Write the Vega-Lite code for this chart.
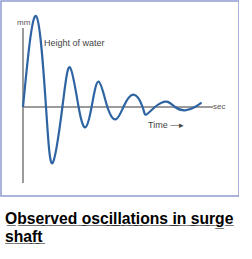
{
  "$schema": "https://vega.github.io/schema/vega-lite/v6.json",
  "width": 238,
  "height": 195,
  "padding": {"left": 1, "top": 1, "right": 0, "bottom": 0},
  "autosize": {"type": "pad"},
  "background": "white",
  "view": {"stroke": "#8e9ad0", "strokeWidth": 1.5},
  "title": {
    "text": ["O\u0332b\u0332s\u0332e\u0332r\u0332v\u0332e\u0332d\u0332 \u0332o\u0332s\u0332c\u0332i\u0332l\u0332l\u0332a\u0332t\u0332i\u0332o\u0332n\u0332s\u0332 \u0332i\u0332n\u0332 \u0332s\u0332u\u0332r\u0332g\u0332e\u0332", "s\u0332h\u0332a\u0332f\u0332t\u0332"],
    "orient": "bottom",
    "anchor": "start",
    "frame": "group",
    "font": "Liberation Sans",
    "fontSize": 15.7,
    "fontWeight": "bold",
    "color": "#000000",
    "lineHeight": 18,
    "dx": 4,
    "offset": 16,
    "baseline": "top"
  },
  "datasets": {
    "curve": [
      {"t": 0, "h": 0},
      {"t": 0.65, "h": 91},
      {"t": 1.15, "h": 0},
      {"t": 1.48, "h": -56},
      {"t": 1.97, "h": 0},
      {"t": 2.35, "h": 39.7},
      {"t": 2.78, "h": 0},
      {"t": 3.12, "h": -20.3},
      {"t": 3.43, "h": 0},
      {"t": 3.78, "h": 25.3},
      {"t": 4.22, "h": 0},
      {"t": 4.65, "h": -12.3},
      {"t": 5.02, "h": 0},
      {"t": 5.52, "h": 12.3},
      {"t": 5.98, "h": 0},
      {"t": 6.15, "h": -7.7},
      {"t": 6.6, "h": 0},
      {"t": 7.18, "h": 5.3},
      {"t": 7.6, "h": 0},
      {"t": 8.1, "h": -3.3},
      {"t": 8.6, "h": 0},
      {"t": 8.93, "h": 4.3}
    ],
    "axes": [
      {"t": 0, "h": 0, "t2": 9.5, "h2": 0},
      {"t": 0, "h": 79, "t2": 0, "h2": -76}
    ],
    "labels": [
      {"t": -0.1, "h": 84, "label": "mm", "size": "s"},
      {"t": 1.05, "h": 64, "label": "Height of water", "size": "m"},
      {"t": 9.7, "h": 0, "label": "sec", "size": "s"},
      {"t": 6.25, "h": -18, "label": "Time \u2014\u25b8", "size": "m"}
    ]
  },
  "encoding": {
    "x": {"field": "t", "type": "quantitative", "scale": {"domain": [-1.1, 10.8], "nice": false, "zero": false}, "axis": null},
    "y": {"field": "h", "type": "quantitative", "scale": {"domain": [-89, 106], "nice": false, "zero": false}, "axis": null}
  },
  "layer": [
    {
      "data": {"name": "axes"},
      "mark": {"type": "rule", "color": "#7a7a7a", "strokeWidth": 1.5},
      "encoding": {"x2": {"field": "t2"}, "y2": {"field": "h2"}}
    },
    {
      "data": {"name": "curve"},
      "mark": {"type": "line", "interpolate": "natural", "color": "#2f64a3", "strokeWidth": 2.2},
      "encoding": {"order": {"field": "t", "type": "quantitative"}}
    },
    {
      "data": {"name": "labels"},
      "transform": [{"filter": "datum.size == 's'"}],
      "mark": {"type": "text", "align": "left", "baseline": "middle", "font": "Liberation Sans", "fontSize": 8, "color": "#555555", "dx": -4},
      "encoding": {"text": {"field": "label"}}
    },
    {
      "data": {"name": "labels"},
      "transform": [{"filter": "datum.size == 'm'"}],
      "mark": {"type": "text", "align": "left", "baseline": "middle", "font": "Liberation Sans", "fontSize": 9, "color": "#444444"},
      "encoding": {"text": {"field": "label"}}
    }
  ]
}
